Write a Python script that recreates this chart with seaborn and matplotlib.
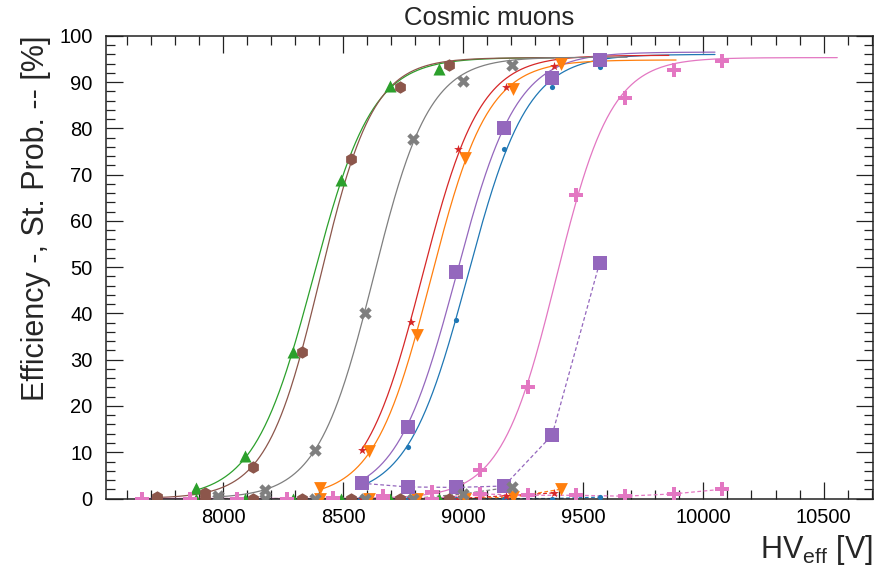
import numpy as np
import matplotlib
matplotlib.use("Agg")
import matplotlib.pyplot as plt
import seaborn as sns
from matplotlib.ticker import MultipleLocator

# ---- HV scans: effective high voltage [V], efficiency [%], streamer probability [%] ----
hv_blue = [8570, 8770, 8970, 9170, 9370, 9568]
eff_blue = [3.3, 11.2, 38.6, 75.6, 89.0, 93.3]
st_blue = [0.0, 0.0, 0.0, 0.0, 0.0, 0.3]

hv_orange = [8403, 8608, 8806, 9007, 9207, 9406]
eff_orange = [2.2, 10.3, 35.3, 73.6, 88.6, 94.0]
st_orange = [0.0, 0.0, 0.0, 0.0, 0.3, 2.0]

hv_green = [7887, 8091, 8291, 8493, 8694, 8898]
eff_green = [2.2, 9.2, 31.7, 68.8, 89.1, 92.9]
st_green = [0.0, 0.0, 0.0, 0.0, 0.0, 0.0]

hv_red = [8579, 8782, 8978, 9180, 9376]
eff_red = [10.5, 38.2, 75.6, 88.9, 93.5]
st_red = [0.0, 0.0, 0.0, 0.6, 1.2]

hv_purple = [8577, 8770, 8970, 9170, 9370, 9568]
eff_purple = [3.4, 15.4, 49.0, 80.1, 91.0, 94.8]
st_purple = [3.3, 2.5, 2.4, 2.7, 13.7, 51.0]

hv_brown = [7724, 7925, 8123, 8329, 8531, 8736, 8940]
eff_brown = [0.3, 1.3, 6.9, 31.7, 73.3, 89.0, 93.8]
st_brown = [0.0, 0.0, 0.0, 0.0, 0.0, 0.0, 0.0]

hv_pink = [7661, 7862, 8060, 8265, 8458, 8666, 8872, 9069, 9270, 9471, 9672, 9876, 10077]
eff_pink = [0.0, 0.0, 0.0, 0.0, 0.2, 0.5, 1.5, 6.2, 24.1, 65.7, 86.5, 92.6, 94.5]
st_pink = [0.0, 0.0, 0.0, 0.0, 0.0, 0.0, 0.0, 1.0, 0.7, 0.7, 0.5, 1.0, 2.0]

hv_gray = [7980, 8177, 8385, 8590, 8791, 8999, 9202]
eff_gray = [0.5, 1.8, 10.5, 40.1, 77.7, 90.2, 93.6]
st_gray = [0.0, 0.0, 0.0, 0.0, 0.0, 1.0, 2.5]

# plateau efficiency of each sigmoid fit [%]
plateau = [96.0, 94.8, 95.3, 95.8, 96.5, 95.3, 95.3, 95.4]

pal = sns.color_palette("tab10")
series = [
    (hv_blue, eff_blue, st_blue, pal[0], "o", 14),
    (hv_orange, eff_orange, st_orange, pal[1], "v", 85),
    (hv_green, eff_green, st_green, pal[2], "^", 75),
    (hv_red, eff_red, st_red, pal[3], "*", 45),
    (hv_purple, eff_purple, st_purple, pal[4], "s", 90),
    (hv_brown, eff_brown, st_brown, pal[5], "h", 80),
    (hv_pink, eff_pink, st_pink, pal[6], "P", 95),
    (hv_gray, eff_gray, st_gray, pal[7], "X", 80),
]


def fit_sigmoid(hv, eff, emax):
    """Least-squares logistic fit  E = Emax / (1 + exp(-lam (HV - HV50)))."""
    hv = np.asarray(hv, float)
    eff = np.asarray(eff, float)
    lams = np.linspace(0.004, 0.03, 261)
    h50s = np.arange(hv.min(), hv.max() + 1.0, 2.0)
    L, H = np.meshgrid(lams, h50s, indexing="ij")
    s = emax / (1.0 + np.exp(-L[..., None] * (hv - H[..., None])))
    res = ((s - eff) ** 2).sum(-1)
    i = np.unravel_index(res.argmin(), res.shape)
    return L[i], H[i]


sns.set_theme(style="ticks")
plt.rcParams["font.family"] = ["Liberation Sans", "DejaVu Sans"]
plt.rcParams["mathtext.fontset"] = "custom"
plt.rcParams["mathtext.rm"] = "Liberation Sans"

fig = plt.figure(figsize=(8.87, 5.74), dpi=100)
ax = fig.add_axes([0.120, 0.1315, 0.864, 0.806])

for (hv, eff, st, col, mk, sz), emax in zip(series, plateau):
    lam, h50 = fit_sigmoid(hv, eff, emax)
    xs = np.linspace(hv[0], hv[-1] + 480, 400)
    ys = emax / (1.0 + np.exp(-lam * (xs - h50)))
    sns.lineplot(x=xs, y=ys, ax=ax, color=col, linewidth=0.9, zorder=2)
    sns.lineplot(x=hv, y=st, ax=ax, color=col, linewidth=0.9,
                 linestyle=(0, (3, 2)), zorder=2)

for hv, eff, st, col, mk, sz in series:
    sns.scatterplot(x=hv, y=eff, ax=ax, color=col, marker=mk, s=sz,
                    linewidth=0, zorder=3)
    sns.scatterplot(x=hv, y=st, ax=ax, color=col, marker=mk, s=sz,
                    linewidth=0, zorder=3)

ax.set_xlim(7515, 10705)
ax.set_ylim(0, 100)
ax.xaxis.set_major_locator(MultipleLocator(500))
ax.xaxis.set_minor_locator(MultipleLocator(100))
ax.yaxis.set_major_locator(MultipleLocator(10))
ax.yaxis.set_minor_locator(MultipleLocator(2))
ax.tick_params(which="both", direction="in", top=True, right=True,
               color="#222222", width=0.9, labelsize=14.5, labelcolor="black")
ax.tick_params(which="major", length=12)
ax.tick_params(which="minor", length=6.5)
ax.tick_params(axis="x", pad=7)
ax.tick_params(axis="y", pad=10)
for sp in ax.spines.values():
    sp.set_linewidth(1.1)
    sp.set_color("#222222")

ax.set_title("Cosmic muons", fontsize=18.5, pad=8)
ax.set_ylabel("Efficiency -, St. Prob. -- [%]", fontsize=22, loc="top")
ax.yaxis.set_label_coords(-0.072, 1.0)
ax.set_xlabel(r"HV$_{\mathregular{eff}}$ [V]", fontsize=22, loc="right")
ax.xaxis.set_label_coords(1.0, -0.075)

fig.savefig("out.png", dpi=100)
